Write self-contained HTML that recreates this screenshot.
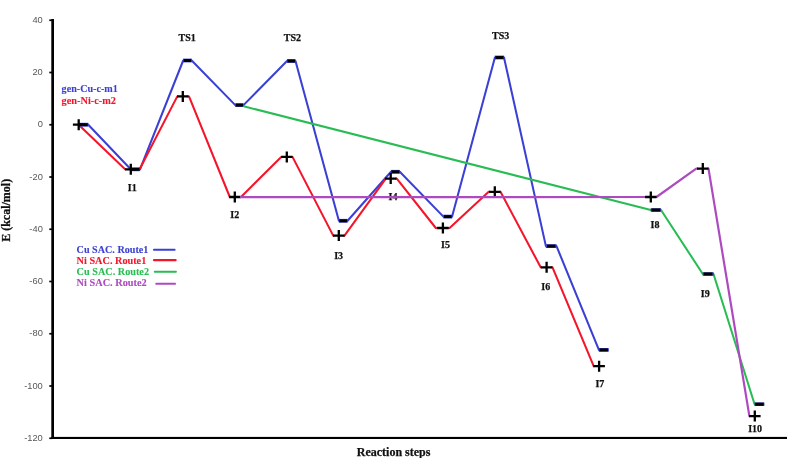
<!DOCTYPE html>
<html><head><meta charset="utf-8"><title>Reaction energy profile</title>
<style>
html,body{margin:0;padding:0;background:#fff;}
body{width:787px;height:458px;overflow:hidden;}
svg{display:block;}
.t{font-family:"Liberation Serif",serif;font-weight:bold;font-size:10px;fill:#111;stroke:#111;stroke-width:0.25px;}
.ax{font-family:"Liberation Sans",sans-serif;font-size:9.3px;fill:#575757;text-anchor:end;}
.ttl{font-family:"Liberation Serif",serif;font-weight:bold;font-size:12px;fill:#111;stroke:#111;stroke-width:0.25px;}
</style></head><body>
<svg width="787" height="458" viewBox="0 0 787 458">
<rect width="787" height="458" fill="#fff"/>
<rect x="51.3" y="19" width="2.7" height="420" fill="#000"/>
<rect x="51.3" y="436.9" width="736" height="2.1" fill="#000"/>
<rect x="49.3" y="19.40" width="3" height="1.7" fill="#000"/>
<text class="ax" x="42.8" y="22.80">40</text>
<rect x="49.3" y="71.65" width="3" height="1.7" fill="#000"/>
<text class="ax" x="42.8" y="75.05">20</text>
<rect x="49.3" y="123.90" width="3" height="1.7" fill="#000"/>
<text class="ax" x="42.8" y="127.30">0</text>
<rect x="49.3" y="176.15" width="3" height="1.7" fill="#000"/>
<text class="ax" x="42.8" y="179.55">-20</text>
<rect x="49.3" y="228.40" width="3" height="1.7" fill="#000"/>
<text class="ax" x="42.8" y="231.80">-40</text>
<rect x="49.3" y="280.65" width="3" height="1.7" fill="#000"/>
<text class="ax" x="42.8" y="284.05">-60</text>
<rect x="49.3" y="332.90" width="3" height="1.7" fill="#000"/>
<text class="ax" x="42.8" y="336.30">-80</text>
<rect x="49.3" y="385.15" width="3" height="1.7" fill="#000"/>
<text class="ax" x="42.8" y="388.55">-100</text>
<rect x="49.3" y="437.40" width="3" height="1.7" fill="#000"/>
<text class="ax" x="42.8" y="440.80">-120</text>
<polyline fill="none" stroke="#3A40D4" stroke-width="2.05" stroke-linejoin="round" stroke-linecap="butt" points="78.7,124.7 88.3,124.7 130.7,169.3 140.0,169.3 183.2,60.5 191.7,60.5 235.3,105.1 243.5,105.1 287.0,61.0 295.5,61.0 338.9,220.8 347.6,220.8 391.0,171.8 399.8,171.8 443.4,216.6 452.1,216.6 494.9,57.5 504.0,57.5 545.9,246.1 556.5,246.1 598.9,349.9 608.6,349.9"/>
<path fill="none" stroke="#F5152B" stroke-width="2.05" stroke-linejoin="round" d="M78.7 124.7L125.1 169.3L126.1 169.3M135.5 169.3L139.6 169.3L177.3 96.4L178.1 96.4M187.5 96.4L189.0 96.4L229.8 197.0L230.1 197.0M239.5 197.0L241.0 197.0L281.2 156.9L282.1 156.9M291.5 156.9L292.5 156.9L333.2 235.6L334.1 235.6M343.5 235.6L344.5 235.6L385.8 178.6L386.0 178.6M395.4 178.6L396.8 178.6L435.8 228.0L438.2 228.0M447.6 228.0L449.6 228.0L488.7 191.8L490.1 191.8M499.5 191.8L500.5 191.8L540.7 267.3L541.9 267.3M551.3 267.3L552.5 267.3L593.7 366.2L594.4 366.2M599.0 366.2L599.0 366.2"/>
<rect x="78.6" y="122.80" width="9.8" height="3.8" fill="#3A40D4"/><rect x="79.3" y="123.25" width="8.4" height="2.9" fill="#000"/>
<rect x="130.6" y="167.40" width="9.5" height="3.8" fill="#3A40D4"/><rect x="131.2" y="167.85" width="8.3" height="2.9" fill="#000"/>
<rect x="183.1" y="58.60" width="8.7" height="3.8" fill="#3A40D4"/><rect x="183.7" y="59.05" width="7.5" height="2.9" fill="#000"/>
<rect x="235.2" y="103.20" width="8.4" height="3.8" fill="#3A40D4"/><rect x="235.8" y="103.65" width="7.2" height="2.9" fill="#000"/>
<rect x="286.9" y="59.10" width="8.7" height="3.8" fill="#3A40D4"/><rect x="287.5" y="59.55" width="7.5" height="2.9" fill="#000"/>
<rect x="338.8" y="218.90" width="8.9" height="3.8" fill="#3A40D4"/><rect x="339.4" y="219.35" width="7.7" height="2.9" fill="#000"/>
<rect x="390.9" y="169.90" width="9.0" height="3.8" fill="#3A40D4"/><rect x="391.5" y="170.35" width="7.8" height="2.9" fill="#000"/>
<rect x="443.3" y="214.70" width="8.9" height="3.8" fill="#3A40D4"/><rect x="443.9" y="215.15" width="7.7" height="2.9" fill="#000"/>
<rect x="494.8" y="55.60" width="9.3" height="3.8" fill="#3A40D4"/><rect x="495.4" y="56.05" width="8.1" height="2.9" fill="#000"/>
<rect x="545.8" y="244.20" width="10.8" height="3.8" fill="#3A40D4"/><rect x="547.0" y="244.65" width="8.4" height="2.9" fill="#000"/>
<rect x="598.8" y="348.00" width="9.9" height="3.8" fill="#3A40D4"/><rect x="599.5" y="348.45" width="8.4" height="2.9" fill="#000"/>
<path d="M72.9 124.7h11.6M78.7 119.2v11" stroke="#000" stroke-width="2.3" fill="none"/>
<path d="M125.0 169.3h11.6M130.8 163.8v11" stroke="#000" stroke-width="2.3" fill="none"/>
<path d="M177.0 96.4h11.6M182.8 90.9v11" stroke="#000" stroke-width="2.3" fill="none"/>
<path d="M229.0 197.0h11.6M234.8 191.5v11" stroke="#000" stroke-width="2.3" fill="none"/>
<path d="M281.0 156.9h11.6M286.8 151.4v11" stroke="#000" stroke-width="2.3" fill="none"/>
<path d="M333.0 235.6h11.6M338.8 230.1v11" stroke="#000" stroke-width="2.3" fill="none"/>
<path d="M384.9 178.6h11.6M390.7 173.1v11" stroke="#000" stroke-width="2.3" fill="none"/>
<path d="M437.1 228.0h11.6M442.9 222.5v11" stroke="#000" stroke-width="2.3" fill="none"/>
<path d="M489.0 191.8h11.6M494.8 186.3v11" stroke="#000" stroke-width="2.3" fill="none"/>
<path d="M540.8 267.3h11.6M546.6 261.8v11" stroke="#000" stroke-width="2.3" fill="none"/>
<path d="M593.3 366.2h11.6M599.1 360.7v11" stroke="#000" stroke-width="2.3" fill="none"/>
<polyline fill="none" stroke="#2ABC54" stroke-width="2.05" stroke-linejoin="round" stroke-linecap="butt" points="243.7,106.3 650.8,210.0 661.0,210.0 702.8,274.0 713.5,274.0 754.6,404.2 764.2,404.2"/>
<rect x="650.7" y="208.20" width="10.4" height="3.6" fill="#2A389C"/><rect x="651.7" y="208.55" width="8.4" height="2.9" fill="#000"/>
<rect x="702.7" y="272.20" width="10.9" height="3.6" fill="#2A389C"/><rect x="703.9" y="272.55" width="8.4" height="2.9" fill="#000"/>
<rect x="754.5" y="402.40" width="9.8" height="3.6" fill="#2A389C"/><rect x="755.2" y="402.75" width="8.4" height="2.9" fill="#000"/>
<text class="t" x="388.6" y="199.8">I4</text>
<path fill="none" stroke="#AE4AC0" stroke-width="2.2" stroke-linejoin="round" d="M240.0 197.1L656.5 197.0L696.2 168.6L698.1 168.6M707.5 168.6L708.5 168.6L749.4 416.1L750.1 416.1M754.8 416.1L754.8 416.1"/>
<path d="M645.0 197.0h11.6M650.8 191.5v11" stroke="#000" stroke-width="2.3" fill="none"/>
<path d="M697.0 168.6h11.6M702.8 163.1v11" stroke="#000" stroke-width="2.3" fill="none"/>
<path d="M749.0 416.1h11.6M754.8 410.6v11" stroke="#000" stroke-width="2.3" fill="none"/>
<text class="t" x="178.5" y="40.7">TS1</text>
<text class="t" x="283.8" y="40.7">TS2</text>
<text class="t" x="492.1" y="38.7">TS3</text>
<text class="t" x="127.8" y="190.6">I1</text>
<text class="t" x="230.3" y="217.9">I2</text>
<text class="t" x="334.2" y="258.9">I3</text>
<text class="t" x="441.0" y="247.6">I5</text>
<text class="t" x="541.3" y="289.7">I6</text>
<text class="t" x="595.4" y="387.2">I7</text>
<text class="t" x="650.6" y="228.4">I8</text>
<text class="t" x="700.8" y="296.7">I9</text>
<text class="t" x="748.2" y="432.0">I10</text>
<text class="t" x="61.6" y="92.4" textLength="56.2" lengthAdjust="spacingAndGlyphs" style="fill:#3A40D4;stroke:#3A40D4;stroke-width:0.1px">gen-Cu-c-m1</text>
<text class="t" x="61.6" y="103.6" textLength="54.4" lengthAdjust="spacingAndGlyphs" style="fill:#F5152B;stroke:#F5152B;stroke-width:0.1px">gen-Ni-c-m2</text>
<text class="t" x="76.6" y="252.8" textLength="71.8" lengthAdjust="spacingAndGlyphs" style="fill:#3A40D4;stroke:#3A40D4;stroke-width:0.1px">Cu SAC. Route1</text>
<line x1="154.0" x2="174.6" y1="249.7" y2="249.7" stroke="#3A40D4" stroke-width="2.1" stroke-linecap="round"/>
<text class="t" x="76.6" y="263.9" textLength="69.7" lengthAdjust="spacingAndGlyphs" style="fill:#F5152B;stroke:#F5152B;stroke-width:0.1px">Ni SAC. Route1</text>
<line x1="154.0" x2="175.6" y1="260.2" y2="260.2" stroke="#F5152B" stroke-width="2.2" stroke-linecap="round"/>
<text class="t" x="76.6" y="275.0" textLength="72.4" lengthAdjust="spacingAndGlyphs" style="fill:#2ABC54;stroke:#2ABC54;stroke-width:0.1px">Cu SAC. Route2</text>
<line x1="154.8" x2="175.9" y1="271.8" y2="271.8" stroke="#2ABC54" stroke-width="2.1" stroke-linecap="round"/>
<text class="t" x="76.6" y="286.2" textLength="70.1" lengthAdjust="spacingAndGlyphs" style="fill:#AE4AC0;stroke:#AE4AC0;stroke-width:0.1px">Ni SAC. Route2</text>
<line x1="156.2" x2="175.1" y1="283.8" y2="283.8" stroke="#AE4AC0" stroke-width="1.9" stroke-linecap="round"/>
<text class="ttl" x="356.8" y="455.6">Reaction steps</text>
<text class="ttl" transform="translate(9.6,241.8) rotate(-90)">E (kcal/mol)</text>
</svg></body></html>
